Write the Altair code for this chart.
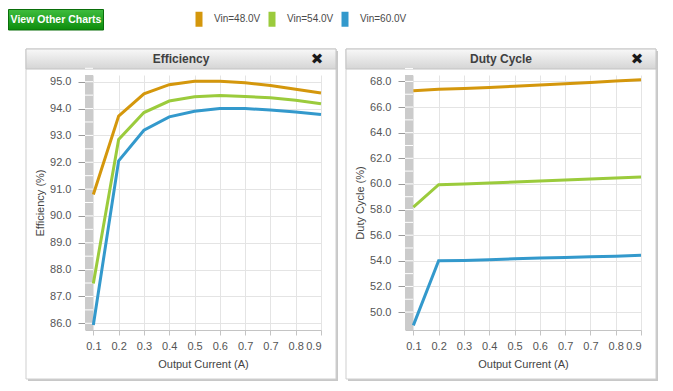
import altair as alt
import pandas as pd

# ---------------- data ----------------
x_labels = ["0.1", "0.2", "0.3", "0.4", "0.5", "0.6", "0.7", "0.7", "0.8", "0.9"]
series_names = ["Vin=48.0V", "Vin=54.0V", "Vin=60.0V"]
series_colors = ["#D4970C", "#9BCB3C", "#3399CC"]

eff_48 = [90.80, 93.72, 94.55, 94.89, 95.02, 95.02, 94.96, 94.86, 94.72, 94.58]
eff_54 = [87.48, 92.85, 93.85, 94.28, 94.44, 94.49, 94.45, 94.40, 94.31, 94.18]
eff_60 = [85.94, 92.05, 93.19, 93.69, 93.90, 94.00, 94.00, 93.95, 93.87, 93.78]

duty_48 = [67.27, 67.38, 67.45, 67.53, 67.63, 67.71, 67.82, 67.92, 68.03, 68.13]
duty_54 = [58.19, 59.94, 59.99, 60.07, 60.15, 60.23, 60.30, 60.38, 60.46, 60.54]
duty_60 = [48.96, 54.00, 54.03, 54.08, 54.16, 54.21, 54.26, 54.31, 54.36, 54.44]

eff_ticks = [86.0, 87.0, 88.0, 89.0, 90.0, 91.0, 92.0, 93.0, 94.0, 95.0]
duty_ticks = [50.0, 52.0, 54.0, 56.0, 58.0, 60.0, 62.0, 64.0, 66.0, 68.0]

W, H = 236, 255
FONT = "Liberation Sans"


def long_df(series_list):
    rows = []
    for name, vals in zip(series_names, series_list):
        for i, v in enumerate(vals):
            rows.append({"idx": i, "series": name, "value": v})
    return pd.DataFrame(rows)


def band_marks(ticks):
    step = (ticks[1] - ticks[0]) / 2.0
    vals = []
    for t in ticks:
        vals.append(t)
        vals.append(t + step)
    return pd.DataFrame({"value": vals})


label_expr = "[" + ",".join("'%s'" % l for l in x_labels) + "][datum.value]"
color_scale = alt.Scale(domain=series_names, range=series_colors)
one = pd.DataFrame({"a": [0]})


def grad(c1, c2):
    return {"gradient": "linear", "x1": 0, "y1": 0, "x2": 0, "y2": 1,
            "stops": [{"offset": 0, "color": c1}, {"offset": 1, "color": c2}]}


def panel(title, ytitle, df, ticks, ydomain, extra=None):
    xenc = alt.X("idx:Q",
                 scale=alt.Scale(domain=[-0.33, 9], nice=False, zero=False),
                 axis=alt.Axis(values=list(range(len(x_labels))), labelExpr=label_expr,
                               title="Output Current (A)", grid=True, gridColor="#e4e4e4",
                               domainColor="#c4c4c4", tickColor="#c4c4c4", tickSize=5,
                               labelPadding=5, titlePadding=7, labelFont=FONT, titleFont=FONT,
                               labelFontSize=11, titleFontSize=11, titleFontWeight="normal",
                               labelColor="#555555", titleColor="#444444"))
    yenc = alt.Y("value:Q",
                 scale=alt.Scale(domain=ydomain, nice=False, zero=False),
                 axis=alt.Axis(values=ticks, format=".1f", title=ytitle, grid=True,
                               gridColor="#e4e4e4", domain=False, tickColor="#999999",
                               tickSize=7, labelPadding=7, titlePadding=4,
                               labelFont=FONT, titleFont=FONT, labelFontSize=11,
                               titleFontSize=11, titleFontWeight="normal",
                               labelColor="#555555", titleColor="#444444"))

    deco = alt.Chart(one)
    shadow_r = deco.mark_rect(fill="#c8c8c8").encode(
        x=alt.value(W + 15), x2=alt.value(W + 17), y=alt.value(-24), y2=alt.value(H + 51))
    shadow_b = deco.mark_rect(fill="#c8c8c8").encode(
        x=alt.value(-57), x2=alt.value(W + 17), y=alt.value(H + 49), y2=alt.value(H + 51))
    border = deco.mark_rect(fill="transparent", stroke="#cfcfcf", strokeWidth=1).encode(
        x=alt.value(-59), x2=alt.value(W + 15), y=alt.value(-26), y2=alt.value(H + 49))
    header = deco.mark_rect(fill=grad("#f8f8f8", "#d5d5d5"), stroke="#c4c4c4", strokeWidth=1).encode(
        x=alt.value(-59), x2=alt.value(W + 15), y=alt.value(-26), y2=alt.value(-6))
    ttl = deco.mark_text(text=title, font=FONT, fontSize=12, fontWeight="bold",
                         color="#404040", align="center", baseline="middle").encode(
        x=alt.value((W - 44) / 2.0), y=alt.value(-16))
    close = deco.mark_text(text="\u2716", font="DejaVu Sans", fontSize=15,
                           color="#1a1a1a", align="center", baseline="middle").encode(
        x=alt.value(W - 4), y=alt.value(-16))
    band = deco.mark_rect(fill="#cbcbcb").encode(
        x=alt.value(0), x2=alt.value(8), y=alt.value(0), y2=alt.value(H))
    band_ticks = alt.Chart(band_marks(ticks)).mark_rule(color="#ffffff", strokeWidth=1).encode(
        x=alt.value(0), x2=alt.value(8), y=yenc)

    lines = alt.Chart(df).mark_line(strokeWidth=3).encode(
        x=xenc, y=yenc,
        color=alt.Color("series:N", scale=color_scale,
                        legend=alt.Legend(
                            orient="none", legendX=103, legendY=-67, direction="horizontal",
                            title=None, symbolType="M0,-1L0,1",
                            symbolSize=225, symbolStrokeWidth=7, labelFont=FONT,
                            labelFontSize=10, labelColor="#4a4a4a", labelOffset=4,
                            columnPadding=-3)),
        order="idx:Q")

    layers = [shadow_r, shadow_b, border, header, ttl, close, band, band_ticks, lines]
    if extra:
        layers += extra
    return alt.layer(*layers).properties(width=W, height=H)


btn = alt.Chart(one).mark_rect(fill=grad("#3fbd3f", "#0c8c0c"), stroke="#0a6e0a",
                               strokeWidth=1).encode(
    x=alt.value(-76.5), x2=alt.value(18.5), y=alt.value(-65.5), y2=alt.value(-45))
btn_txt = alt.Chart(one).mark_text(text="View Other Charts", font=FONT,
                                   fontSize=10.5, fontWeight="bold", color="#ffffff",
                                   align="center", baseline="middle").encode(
    x=alt.value(-29), y=alt.value(-55))

p1 = panel("Efficiency", "Efficiency (%)", long_df([eff_48, eff_54, eff_60]),
           eff_ticks, [85.75, 95.25], extra=[btn, btn_txt])
p2 = panel("Duty Cycle", "Duty Cycle (%)", long_df([duty_48, duty_54, duty_60]),
           duty_ticks, [48.6, 68.5])

chart = alt.hconcat(p1, p2, spacing=84, bounds="flush").resolve_scale(
    color="shared").properties(padding=0).configure_view(stroke=None)

chart.save("out.html", embed_options={"renderer": "svg", "actions": False})
